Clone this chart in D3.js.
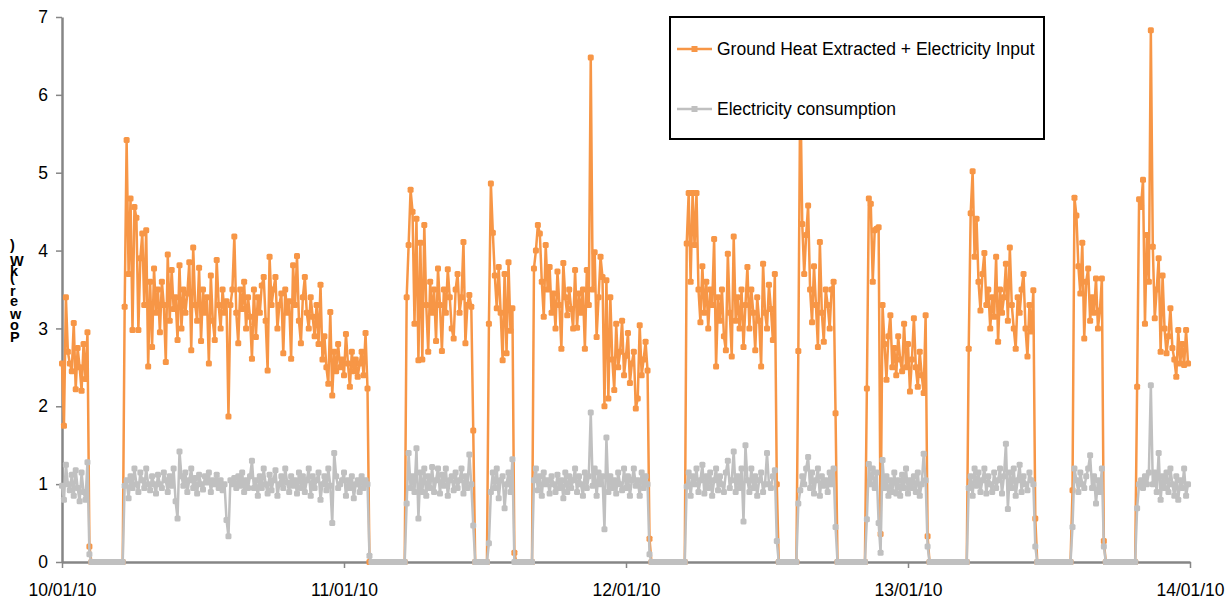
<!DOCTYPE html>
<html>
<head>
<meta charset="utf-8">
<script src="https://cdn.jsdelivr.net/npm/d3@7"></script>
<style>
body { margin: 0; background: #fff; }
svg text { font-family: "Liberation Sans", Arial, sans-serif; }
</style>
</head>
<body>
<svg width="1226" height="601"></svg>
<script>
// readings every 10 minutes, one array per day (kW)
var heatDay1 = [2.55, 1.75, 3.4, 2.7, 2.55, 2.45, 3.07, 2.22, 2.75, 2.5, 2.2, 2.8, 2.35, 2.95,
  0.2,
  0, 0, 0, 0, 0, 0, 0, 0, 0, 0, 0, 0, 0, 0, 0, 0, 0,
  3.28, 5.42, 3.7, 4.67, 2.98, 4.56, 4.42, 2.98, 3.9, 4.22,
  3.3, 4.26, 2.51, 3.6, 2.76, 3.77, 3.2, 3.5, 2.95, 3.6,
  3.3, 2.57, 3.95, 3.1, 3.75, 3.25, 3.4, 2.85, 3.81, 3.0,
  3.5, 3.2, 3.45, 3.85, 2.72, 4.04, 3.3, 3.1, 3.78, 2.84,
  3.5, 3.2, 3.4, 2.55, 3.68, 3.1, 2.85, 3.88, 3.3, 3.0,
  3.5, 3.2, 3.35, 1.87, 3.3, 3.5, 4.18, 3.2, 2.81, 3.5,
  3.25, 3.6, 3.0, 3.4, 3.15, 2.61, 3.5, 2.89, 3.4, 3.2,
  3.55, 3.66, 3.1, 2.46, 3.92, 3.3, 3.5, 3.66, 3.0, 3.3,
  3.45, 2.68, 3.5, 3.2, 3.35, 2.61, 3.81, 3.3, 3.93, 3.1,
  2.81, 3.4, 3.66, 3.2, 3.0, 3.4, 3.15, 2.9, 3.3, 2.8,
  3.56, 2.6, 2.9, 2.5, 2.29, 3.21, 2.14, 2.7, 2.45, 2.8,
  2.5, 2.6];
var heatDay2 = [2.4, 2.93, 2.55, 2.25, 2.7, 2.45, 2.6, 2.38, 2.55, 2.7, 2.4, 2.94, 2.23,
  0,
  0, 0, 0, 0, 0, 0, 0, 0, 0, 0, 0, 0, 0, 0, 0, 0, 0, 0,
  3.4, 4.07, 4.78, 4.5, 3.06, 4.41, 2.59, 4.1, 2.6, 4.33,
  3.3, 2.7, 3.6, 3.2, 3.5, 2.84, 3.77, 3.3, 2.71, 3.5,
  3.2, 3.76, 3.4, 3.0, 2.87, 3.5, 3.7, 3.2, 3.4, 4.11,
  2.81, 3.3, 3.43, 3.28,
  1.69,
  0, 0, 0, 0, 0, 0, 0,
  3.06, 4.86, 4.23, 3.68, 3.26, 3.79, 3.2, 2.59, 3.7, 2.68, 3.85, 2.97, 3.26,
  0.12,
  0, 0, 0, 0, 0, 0, 0, 0, 0,
  3.77, 4.0, 4.33, 4.22, 3.6, 3.15, 4.07, 3.5, 3.79, 3.2,
  3.45, 3.0, 3.73, 3.3, 2.74, 3.84, 3.4, 3.17, 3.5, 3.25,
  3.0, 3.75, 3.01, 3.45, 3.2, 3.5, 2.74, 3.75, 3.3, 6.48,
  3.5, 3.98, 2.89, 3.4, 3.92, 3.66, 2.0, 3.62, 2.1, 3.4,
  2.6, 2.21, 3.06, 2.5, 2.7, 3.1, 2.4];
var heatDay3 = [2.65, 2.94, 2.3, 2.55, 2.7, 1.97, 2.1, 3.04, 2.4, 2.6, 2.83, 2.46,
  0.3,
  0, 0, 0, 0, 0, 0, 0, 0, 0, 0, 0, 0, 0, 0, 0, 0, 0, 0,
  4.09, 4.74, 3.6, 4.74, 4.07, 4.74, 3.5, 3.08, 3.8, 3.2,
  3.6, 3.0, 3.5, 3.3, 4.15, 2.51, 3.4, 3.1, 3.5, 2.9,
  2.72, 3.96, 3.2, 2.64, 4.18, 3.1, 3.4, 3.0, 3.5, 2.76,
  3.3, 3.79, 3.0, 3.5, 3.2, 2.72, 3.4, 3.1, 2.51, 3.83,
  3.2, 3.0, 3.56, 3.25, 2.85, 3.7,
  1.0,
  0, 0, 0, 0, 0, 0, 0, 0, 0, 0,
  2.71, 6.2, 4.34, 3.7, 4.2, 4.58, 3.5, 3.08, 3.8, 3.3, 2.76, 4.11, 3.2, 2.83, 3.5, 3.3, 3.0, 3.5, 3.6,
  1.91,
  0, 0, 0, 0, 0, 0, 0, 0, 0, 0, 0, 0, 0, 0, 0,
  2.23, 4.67, 4.6, 3.6, 4.26, 4.28, 4.3, 0.36, 3.3, 2.8,
  2.34, 2.9, 3.17, 2.5, 2.75, 2.4, 2.9, 2.6, 2.45, 3.06, 2.5];
var heatDay4 = [2.8, 2.19, 2.6, 3.13, 2.5, 2.25, 2.7, 2.4, 2.17, 3.17,
  0.33,
  0, 0, 0, 0, 0, 0, 0, 0, 0, 0, 0, 0, 0, 0, 0, 0, 0, 0, 0, 0,
  2.74, 4.48, 5.02, 3.92, 4.41, 3.6, 3.23, 3.7, 3.97, 3.3,
  3.5, 3.0, 3.4, 3.15, 3.92, 2.83, 3.5, 3.2, 3.4, 3.83,
  3.1, 4.04, 3.3, 3.0, 2.74, 3.4, 3.2, 3.5, 3.7, 3.0,
  2.64, 3.3, 2.96, 3.49,
  0.56,
  0, 0, 0, 0, 0, 0, 0, 0, 0, 0, 0, 0, 0, 0, 0, 0, 0, 0,
  0.92, 4.68, 4.45, 3.8, 3.45, 4.1, 2.87, 3.6, 3.77, 3.1, 3.4, 3.2, 3.64, 3.0, 3.23, 3.64,
  0.27,
  0, 0, 0, 0, 0, 0, 0, 0, 0, 0, 0, 0, 0, 0, 0, 0,
  2.25, 4.66, 4.56, 4.91, 3.06, 4.2, 3.6, 6.83, 4.05, 3.13,
  3.5, 3.9, 2.7, 3.68, 3.0, 2.68, 2.9, 3.26, 2.75, 2.6,
  2.38, 2.98, 2.55, 2.8, 2.53, 2.98, 2.55];

var elecDay1 = [0.98, 0.8, 1.25, 1.0, 0.92, 1.12, 0.85, 1.18, 0.95, 0.78, 1.15, 0.9, 0.8, 1.28,
  0.1,
  0, 0, 0, 0, 0, 0, 0, 0, 0, 0, 0, 0, 0, 0, 0, 0, 0,
  0.98, 1.05, 0.82, 1.1, 0.95, 1.2, 1.0, 0.9, 1.15, 1.05,
  0.95, 1.2, 1.0, 0.92, 1.1, 1.0, 0.88, 1.12, 1.0, 0.95,
  1.15, 1.05, 0.9, 1.1, 0.98, 1.2, 0.78, 0.56, 1.42, 1.1,
  0.98, 1.15, 0.9, 1.05, 1.2, 0.95, 1.08, 0.88, 1.12, 1.0,
  0.93, 1.1, 1.02, 1.15, 0.9, 1.05, 1.0, 1.12, 0.95, 1.05,
  0.92, 1.0, 0.54, 0.33, 1.05, 1.0, 1.08, 0.95, 1.1, 0.98,
  1.15, 0.9, 1.05, 0.95, 1.1, 1.3, 0.95, 1.05, 0.85, 1.1,
  0.95, 1.2, 1.0, 0.88, 1.12, 0.92, 1.05, 1.18, 0.85, 1.0,
  1.1, 0.95, 1.2, 1.02, 0.9, 1.1, 0.98, 1.05, 0.88, 1.15,
  0.95, 1.1, 0.9, 1.05, 1.2, 0.85, 1.1, 0.95, 1.05, 1.15,
  0.8, 1.0, 1.1, 0.92, 1.2, 0.98, 0.5, 1.4, 1.1, 0.95,
  1.0, 1.05];
var elecDay2 = [1.15, 0.85, 1.05, 0.95, 1.1, 0.82, 1.0, 1.05, 0.9, 1.1, 0.95, 1.05, 1.0,
  0.08,
  0, 0, 0, 0, 0, 0, 0, 0, 0, 0, 0, 0, 0, 0, 0, 0, 0, 0,
  0.75, 1.4, 0.95, 1.1, 0.9, 1.46, 0.56, 1.15, 0.9, 1.2,
  0.85, 1.1, 0.95, 1.22, 0.9, 1.05, 1.2, 0.88, 1.12, 0.98,
  1.2, 0.85, 1.05, 1.1, 0.92, 1.15, 0.95, 1.05, 1.2, 0.88,
  1.1, 0.95, 1.38, 1.0,
  0.47,
  0, 0, 0, 0, 0, 0, 0,
  0.24, 0.9, 1.15, 0.95, 1.2, 0.82, 1.05, 1.1, 0.69, 1.0, 1.15, 0.9, 1.32,
  0,
  0, 0, 0, 0, 0, 0, 0, 0, 0,
  1.05, 1.2, 0.92, 1.1, 0.85, 1.15, 1.0, 1.05, 0.88, 1.1,
  1.0, 0.9, 1.12, 0.95, 1.05, 0.82, 1.15, 0.9, 1.1, 0.95,
  1.05, 1.2, 0.9, 1.1, 1.0, 0.85, 1.15, 0.95, 1.1, 1.92,
  0.98, 1.2, 0.85, 1.15, 1.0, 1.1, 0.42, 1.6, 0.9, 1.1,
  0.95, 1.05, 0.88, 1.15, 1.0, 0.92, 1.2];
var elecDay3 = [0.95, 1.1, 0.85, 1.05, 1.2, 0.98, 1.05, 0.85, 1.15, 0.95, 1.1, 1.0,
  0.1,
  0, 0, 0, 0, 0, 0, 0, 0, 0, 0, 0, 0, 0, 0, 0, 0, 0, 0,
  0.97, 1.15, 0.85, 1.1, 1.0, 1.2, 0.9, 1.05, 1.25, 0.88,
  1.1, 0.95, 1.15, 0.85, 1.05, 1.2, 0.92, 1.1, 1.0, 0.9,
  1.15, 1.3, 0.95, 1.05, 1.42, 0.9, 1.1, 0.95, 1.2, 0.52,
  1.5, 1.05, 0.9, 1.2, 0.95, 1.1, 0.85, 1.05, 1.15, 0.9,
  1.0, 1.4, 1.0, 0.95, 1.1, 1.18,
  0.27,
  0, 0, 0, 0, 0, 0, 0, 0, 0, 0,
  0.75, 0.92, 1.1, 1.0, 1.2, 1.35, 0.95, 1.15, 0.88, 1.05, 1.2, 0.85, 1.1, 0.98, 1.05, 0.9, 1.15, 1.0, 1.2,
  0.45,
  0, 0, 0, 0, 0, 0, 0, 0, 0, 0, 0, 0, 0, 0, 0,
  0.55, 1.26, 1.0, 1.2, 0.95, 1.15, 0.5, 0.12, 1.31, 0.95,
  1.1, 0.85, 1.05, 0.9, 1.15, 0.88, 1.05, 0.85, 1.12, 0.95, 1.2];
var elecDay4 = [0.88, 1.05, 0.95, 1.1, 0.9, 1.15, 0.85, 1.0, 1.39, 1.05,
  0.2,
  0, 0, 0, 0, 0, 0, 0, 0, 0, 0, 0, 0, 0, 0, 0, 0, 0, 0, 0, 0,
  0.95, 1.1, 0.85, 1.2, 0.98, 1.15, 0.9, 1.05, 1.2, 0.88,
  1.1, 1.0, 0.9, 1.15, 0.95, 1.05, 1.2, 0.88, 1.1, 1.52,
  0.68, 1.15, 0.95, 1.2, 0.85, 1.05, 1.25, 0.9, 1.1, 1.0,
  0.92, 1.15, 1.05, 1.0,
  0.2,
  0, 0, 0, 0, 0, 0, 0, 0, 0, 0, 0, 0, 0, 0, 0, 0, 0, 0,
  0.45, 1.2, 1.05, 0.9, 1.15, 1.0, 0.95, 1.1, 1.2, 1.37, 0.95, 1.1, 0.75, 1.05, 0.9, 1.2,
  0.2,
  0, 0, 0, 0, 0, 0, 0, 0, 0, 0, 0, 0, 0, 0, 0, 0,
  0.69, 1.0, 1.05, 0.95, 1.1, 1.0, 1.15, 2.27, 1.0, 1.15,
  0.9, 1.4, 0.8, 1.1, 0.95, 1.15, 0.9, 1.2, 1.0, 0.85,
  1.1, 0.8, 1.05, 0.95, 1.2, 0.85, 1.0];

var seriesNames = ["Ground Heat Extracted + Electricity Input", "Electricity consumption"];
var seriesColors = ["#f79646", "#c0c0c0"];
var xTickLabels = ["10/01/10", "11/01/10", "12/01/10", "13/01/10", "14/01/10"];
var yTicks = [0, 1, 2, 3, 4, 5, 6, 7];
var yLabel = "Power (kW)";

var svg = d3.select("svg"),
    width = +svg.attr("width"),
    height = +svg.attr("height");

var start = new Date(2010, 0, 10);
var stepMinutes = 10;

var x = d3.scaleTime()
    .domain([start, d3.timeDay.offset(start, 4)])
    .range([62, 1190]);
var y = d3.scaleLinear()
    .domain([0, 7])
    .range([562, 17]);

// join the day arrays into one series each
var heat = heatDay1.concat(heatDay2, heatDay3, heatDay4);
var elec = elecDay1.concat(elecDay2, elecDay3, elecDay4);
function toPoints(vals) {
  return vals.map(function(v, i) {
    return { t: d3.timeMinute.offset(start, i * stepMinutes), v: v };
  });
}
var series = [toPoints(heat), toPoints(elec)];

var axisColor = "#868686";

//-----AXES------------
var tickDates = d3.timeDay.range(start, d3.timeDay.offset(start, 5));
var xAxis = d3.axisBottom(x)
    .tickValues(tickDates)
    .tickFormat(function(d, i) { return xTickLabels[i]; })
    .tickSize(6)
    .tickSizeOuter(0)
    .tickPadding(16);
var gx = svg.append("g")
    .attr("transform", "translate(0," + y(0) + ")")
    .call(xAxis);

var yAxis = d3.axisLeft(y)
    .tickValues(yTicks)
    .tickFormat(d3.format("d"))
    .tickSize(6)
    .tickSizeOuter(0)
    .tickPadding(8);
var gy = svg.append("g")
    .attr("transform", "translate(" + x(start) + ",0)")
    .call(yAxis);

[gx, gy].forEach(function(g) {
  g.select(".domain").attr("stroke", axisColor).attr("stroke-width", 2.5);
  g.selectAll(".tick line").attr("stroke", axisColor).attr("stroke-width", 1.5);
  g.selectAll(".tick text").attr("fill", "#000").style("font-size", "17.5px");
});

// y label: rotated baseline, glyphs turned back upright (as in the original export)
svg.append("text")
    .attr("transform", "translate(10,342) rotate(-90)")
    .attr("rotate", 90)
    .style("font-size", "14.5px")
    .style("font-weight", "bold")
    .style("letter-spacing", "2px")
    .text(yLabel);

//-----SERIES------------
var line = d3.line()
    .x(function(d) { return x(d.t); })
    .y(function(d) { return y(d.v); });

series.forEach(function(pts, k) {
  var g = svg.append("g");
  g.append("path")
    .datum(pts)
    .attr("fill", "none")
    .attr("stroke", seriesColors[k])
    .attr("stroke-width", 2.5)
    .attr("stroke-linejoin", "round")
    .attr("d", line);
  g.selectAll("rect")
    .data(pts)
    .enter().append("rect")
      .attr("x", function(d) { return x(d.t) - 3; })
      .attr("y", function(d) { return y(d.v) - 3; })
      .attr("width", 6)
      .attr("height", 6)
      .attr("rx", 1.5)
      .attr("fill", seriesColors[k]);
});

//-----LEGEND------------
var legend = svg.append("g").attr("transform", "translate(670,17)");
legend.append("rect")
    .attr("width", 374)
    .attr("height", 122)
    .attr("fill", "#fff")
    .attr("stroke", "#000")
    .attr("stroke-width", 2);

var items = legend.selectAll(".item")
  .data(seriesNames)
  .enter().append("g")
    .attr("class", "item")
    .attr("transform", function(d, i) { return "translate(0," + (32 + i * 60) + ")"; });
items.append("line")
    .attr("x1", 7).attr("x2", 42)
    .attr("stroke", function(d, i) { return seriesColors[i]; })
    .attr("stroke-width", 2.5);
items.append("rect")
    .attr("x", 21.5).attr("y", -3)
    .attr("width", 6).attr("height", 6)
    .attr("fill", function(d, i) { return seriesColors[i]; });
items.append("text")
    .attr("x", 47)
    .attr("dy", "0.35em")
    .style("font-size", "17.5px")
    .text(function(d) { return d; });

// sanity check on the day arrays
[heatDay1, heatDay2, heatDay3, heatDay4, elecDay1, elecDay2, elecDay3, elecDay4].forEach(function(a, i) {
  if (a.length != 144) throw new Error("day array " + i + " has " + a.length + " values");
});
</script>
</body>
</html>
